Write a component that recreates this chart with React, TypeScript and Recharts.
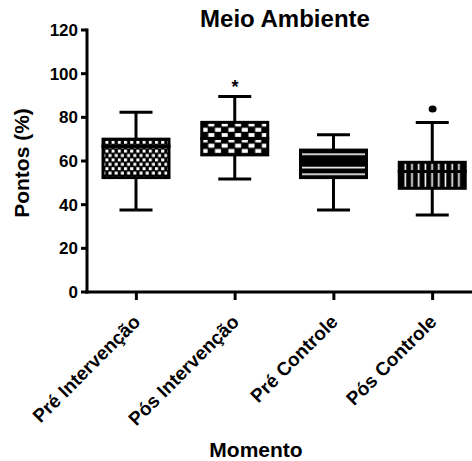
import React from "react";
import { ComposedChart, Bar, Scatter, XAxis, YAxis } from "recharts";

const categories = ["Pré Intervenção", "Pós Intervenção", "Pré Controle", "Pós Controle"];
const minValues = [37.6, 51.8, 37.6, 35.3];
const q1Values = [52.4, 62.8, 52.4, 47.5];
const medianValues = [66.7, 70.3, 60, 55.2];
const q3Values = [70, 77.7, 65, 59.4];
const maxValues = [82.3, 89.5, 72, 77.6];
const outlierValues = [null, null, null, 83.8];
const significanceValues = [null, 95.5, null, null];
const yTicks = [0, 20, 40, 60, 80, 100, 120];

const font = "'Liberation Sans', Arial, sans-serif";
const boxFills = ["url(#checkSmall)", "url(#checkLarge)", "url(#hLines)", "url(#vLines)"];

const data = categories.map((name, i) => ({
  name,
  base: minValues[i],
  lowWhisker: q1Values[i] - minValues[i],
  lowBox: medianValues[i] - q1Values[i],
  highBox: q3Values[i] - medianValues[i],
  highWhisker: maxValues[i] - q3Values[i],
  outlier: outlierValues[i],
  sig: significanceValues[i],
}));

const LowWhisker = (p: any) => {
  const cx = p.x + p.width / 2;
  const bottom = p.y + p.height;
  return (
    <g>
      <line x1={cx} x2={cx} y1={p.y} y2={bottom} stroke="#000" strokeWidth={3} />
      <line x1={cx - p.width / 4} x2={cx + p.width / 4} y1={bottom} y2={bottom} stroke="#000" strokeWidth={3} />
    </g>
  );
};

const HighWhisker = (p: any) => {
  const cx = p.x + p.width / 2;
  return (
    <g>
      <line x1={cx} x2={cx} y1={p.y} y2={p.y + p.height} stroke="#000" strokeWidth={3} />
      <line x1={cx - p.width / 4} x2={cx + p.width / 4} y1={p.y} y2={p.y} stroke="#000" strokeWidth={3} />
    </g>
  );
};

const BoxPart = (p: any) => (
  <rect
    x={p.x}
    y={p.y}
    width={p.width}
    height={p.height}
    fill={boxFills[p.index]}
    stroke="#000"
    strokeWidth={3}
  />
);

const OutlierDot = (p: any) =>
  p.payload?.outlier == null ? <g /> : <ellipse cx={p.cx} cy={p.cy} rx={4} ry={3.5} fill="#000" />;

const StarMark = (p: any) =>
  p.payload?.sig == null ? (
    <g />
  ) : (
    <text x={p.cx} y={p.cy + 10} textAnchor="middle" fontSize={18} fontWeight="bold" fontFamily={font} fill="#000">
      *
    </text>
  );

const XTick = ({ x, y, payload }: any) => (
  <text
    x={0}
    y={0}
    transform={`translate(${x + 5},${y + 21}) rotate(-45)`}
    textAnchor="end"
    fontSize={19}
    fontWeight="bold"
    fontFamily={font}
    fill="#000"
  >
    {payload.value}
  </text>
);

const YLabel = ({ viewBox }: any) => (
  <text
    x={viewBox.x + 29}
    y={viewBox.y + viewBox.height / 2 + 2}
    transform={`rotate(-90, ${viewBox.x + 29}, ${viewBox.y + viewBox.height / 2 + 2})`}
    textAnchor="middle"
    fontSize={21}
    fontWeight="bold"
    fontFamily={font}
    fill="#000"
  >
    Pontos (%)
  </text>
);

const XLabel = ({ viewBox }: any) => (
  <text
    x={viewBox.x + 169}
    y={viewBox.y + viewBox.height - 4}
    textAnchor="middle"
    fontSize={21}
    fontWeight="bold"
    fontFamily={font}
    fill="#000"
  >
    Momento
  </text>
);

export default function App() {
  return (
    <div
      style={{
        position: "fixed",
        left: 0,
        top: 0,
        width: 472,
        height: 461,
        overflow: "hidden",
        background: "#fff",
      }}
    >
      <svg width={0} height={0} style={{ position: "absolute" }}>
        <defs>
          <pattern id="checkSmall" patternUnits="userSpaceOnUse" width={6.2} height={8.8}>
            <rect width={6.2} height={8.8} fill="#000" />
            <rect x={0} y={0} width={3} height={3} fill="#fff" />
            <rect x={3.1} y={4.4} width={3} height={3} fill="#fff" />
          </pattern>
          <pattern id="checkLarge" patternUnits="userSpaceOnUse" width={13.4} height={10.6}>
            <rect width={13.4} height={10.6} fill="#000" />
            <rect x={0.6} y={0.6} width={6} height={4} fill="#fff" />
            <rect x={7.3} y={5.9} width={6} height={4} fill="#fff" />
          </pattern>
          <pattern id="hLines" patternUnits="userSpaceOnUse" width={10} height={6.67}>
            <rect width={10} height={6.67} fill="#000" />
            <rect x={0} y={0} width={10} height={1.6} fill="#fff" />
          </pattern>
          <pattern id="vLines" patternUnits="userSpaceOnUse" width={6.7} height={10}>
            <rect width={6.7} height={10} fill="#000" />
            <rect x={2.5} y={0} width={1.6} height={10} fill="#fff" />
          </pattern>
        </defs>
      </svg>
      <div
        style={{
          position: "absolute",
          left: 0,
          top: 7,
          width: 570,
          textAlign: "center",
          fontFamily: font,
          fontWeight: "bold",
          fontSize: 24,
          lineHeight: "24px",
          color: "#000",
        }}
      >
        Meio Ambiente
      </div>
      <ComposedChart
        width={482}
        height={461}
        data={data}
        margin={{ top: 30, right: 0, bottom: 0, left: 0 }}
      >
        <XAxis
          dataKey="name"
          interval={0}
          height={169}
          tickSize={8}
          tick={<XTick />}
          axisLine={{ stroke: "#000", strokeWidth: 3, strokeLinecap: "square" }}
          tickLine={{ stroke: "#000", strokeWidth: 3 }}
          label={<XLabel />}
        />
        <YAxis
          width={87}
          domain={[0, 120]}
          ticks={yTicks}
          tickSize={6}
          tickMargin={3}
          axisLine={{ stroke: "#000", strokeWidth: 3, strokeLinecap: "square" }}
          tickLine={{ stroke: "#000", strokeWidth: 3 }}
          tick={{ fontSize: 17, fontWeight: "bold", fill: "#000", fontFamily: font }}
          label={<YLabel />}
        />
        <Bar dataKey="base" stackId="box" barSize={66} fill="none" isAnimationActive={false} />
        <Bar dataKey="lowWhisker" stackId="box" barSize={66} shape={LowWhisker} isAnimationActive={false} />
        <Bar dataKey="lowBox" stackId="box" barSize={66} shape={BoxPart} isAnimationActive={false} />
        <Bar dataKey="highBox" stackId="box" barSize={66} shape={BoxPart} isAnimationActive={false} />
        <Bar dataKey="highWhisker" stackId="box" barSize={66} shape={HighWhisker} isAnimationActive={false} />
        <Scatter dataKey="outlier" shape={OutlierDot} isAnimationActive={false} />
        <Scatter dataKey="sig" shape={StarMark} isAnimationActive={false} />
      </ComposedChart>
    </div>
  );
}
